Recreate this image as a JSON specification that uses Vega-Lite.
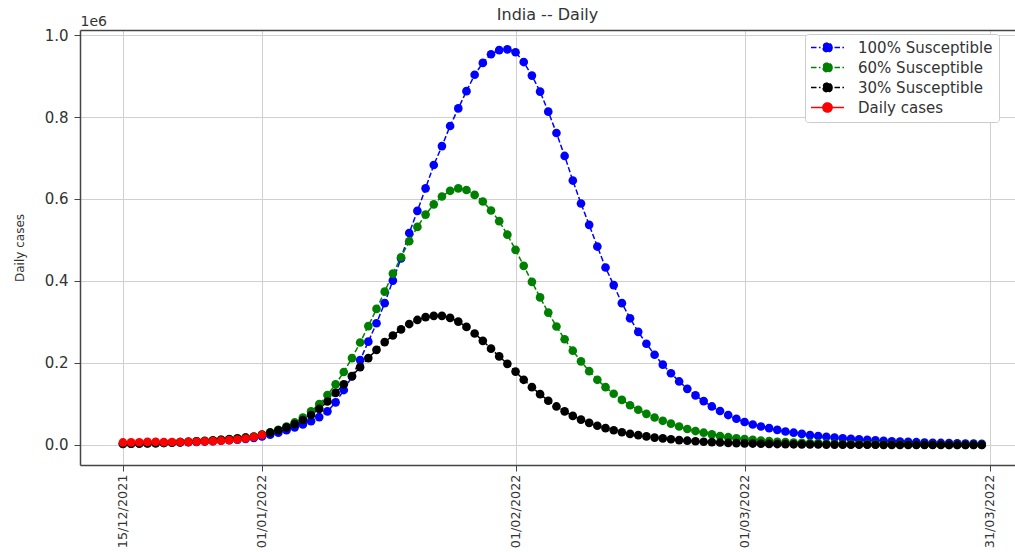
{
"$schema": "https://vega.github.io/schema/vega-lite/v6.json",
"width": 935, "height": 435,
"autosize": {"type": "none"},
"padding": {"left": 80, "top": 30, "right": 0, "bottom": 87},
"background": "white",
"config": {"view": {"stroke": null}, "font": "DejaVu Sans"},
"title": {"text": "India -- Daily", "font": "DejaVu Sans", "fontSize": 16, "fontWeight": "normal", "color": "#333333", "anchor": "middle", "frame": "group", "offset": -9},
"data": {"values": [
{"date":"2021-12-15","series":"100% Susceptible","cases":2800},
{"date":"2021-12-16","series":"100% Susceptible","cases":3100},
{"date":"2021-12-17","series":"100% Susceptible","cases":3500},
{"date":"2021-12-18","series":"100% Susceptible","cases":3900},
{"date":"2021-12-19","series":"100% Susceptible","cases":4300},
{"date":"2021-12-20","series":"100% Susceptible","cases":4800},
{"date":"2021-12-21","series":"100% Susceptible","cases":5400},
{"date":"2021-12-22","series":"100% Susceptible","cases":6000},
{"date":"2021-12-23","series":"100% Susceptible","cases":6700},
{"date":"2021-12-24","series":"100% Susceptible","cases":7500},
{"date":"2021-12-25","series":"100% Susceptible","cases":8400},
{"date":"2021-12-26","series":"100% Susceptible","cases":9400},
{"date":"2021-12-27","series":"100% Susceptible","cases":10500},
{"date":"2021-12-28","series":"100% Susceptible","cases":11800},
{"date":"2021-12-29","series":"100% Susceptible","cases":13200},
{"date":"2021-12-30","series":"100% Susceptible","cases":15000},
{"date":"2021-12-31","series":"100% Susceptible","cases":17500},
{"date":"2022-01-01","series":"100% Susceptible","cases":21000},
{"date":"2022-01-02","series":"100% Susceptible","cases":25000},
{"date":"2022-01-03","series":"100% Susceptible","cases":30000},
{"date":"2022-01-04","series":"100% Susceptible","cases":36000},
{"date":"2022-01-05","series":"100% Susceptible","cases":43000},
{"date":"2022-01-06","series":"100% Susceptible","cases":50000},
{"date":"2022-01-07","series":"100% Susceptible","cases":58000},
{"date":"2022-01-08","series":"100% Susceptible","cases":68000},
{"date":"2022-01-09","series":"100% Susceptible","cases":82000},
{"date":"2022-01-10","series":"100% Susceptible","cases":104000},
{"date":"2022-01-11","series":"100% Susceptible","cases":134000},
{"date":"2022-01-12","series":"100% Susceptible","cases":167000},
{"date":"2022-01-13","series":"100% Susceptible","cases":207000},
{"date":"2022-01-14","series":"100% Susceptible","cases":252000},
{"date":"2022-01-15","series":"100% Susceptible","cases":297000},
{"date":"2022-01-16","series":"100% Susceptible","cases":346000},
{"date":"2022-01-17","series":"100% Susceptible","cases":401000},
{"date":"2022-01-18","series":"100% Susceptible","cases":455000},
{"date":"2022-01-19","series":"100% Susceptible","cases":517000},
{"date":"2022-01-20","series":"100% Susceptible","cases":571000},
{"date":"2022-01-21","series":"100% Susceptible","cases":626000},
{"date":"2022-01-22","series":"100% Susceptible","cases":683000},
{"date":"2022-01-23","series":"100% Susceptible","cases":729000},
{"date":"2022-01-24","series":"100% Susceptible","cases":778000},
{"date":"2022-01-25","series":"100% Susceptible","cases":821000},
{"date":"2022-01-26","series":"100% Susceptible","cases":863000},
{"date":"2022-01-27","series":"100% Susceptible","cases":903000},
{"date":"2022-01-28","series":"100% Susceptible","cases":932000},
{"date":"2022-01-29","series":"100% Susceptible","cases":953000},
{"date":"2022-01-30","series":"100% Susceptible","cases":963000},
{"date":"2022-01-31","series":"100% Susceptible","cases":965000},
{"date":"2022-02-01","series":"100% Susceptible","cases":958000},
{"date":"2022-02-02","series":"100% Susceptible","cases":934000},
{"date":"2022-02-03","series":"100% Susceptible","cases":901000},
{"date":"2022-02-04","series":"100% Susceptible","cases":862000},
{"date":"2022-02-05","series":"100% Susceptible","cases":813000},
{"date":"2022-02-06","series":"100% Susceptible","cases":761000},
{"date":"2022-02-07","series":"100% Susceptible","cases":705000},
{"date":"2022-02-08","series":"100% Susceptible","cases":645000},
{"date":"2022-02-09","series":"100% Susceptible","cases":589000},
{"date":"2022-02-10","series":"100% Susceptible","cases":537000},
{"date":"2022-02-11","series":"100% Susceptible","cases":484000},
{"date":"2022-02-12","series":"100% Susceptible","cases":433000},
{"date":"2022-02-13","series":"100% Susceptible","cases":390000},
{"date":"2022-02-14","series":"100% Susceptible","cases":346000},
{"date":"2022-02-15","series":"100% Susceptible","cases":309000},
{"date":"2022-02-16","series":"100% Susceptible","cases":276000},
{"date":"2022-02-17","series":"100% Susceptible","cases":247000},
{"date":"2022-02-18","series":"100% Susceptible","cases":220000},
{"date":"2022-02-19","series":"100% Susceptible","cases":196000},
{"date":"2022-02-20","series":"100% Susceptible","cases":175000},
{"date":"2022-02-21","series":"100% Susceptible","cases":155000},
{"date":"2022-02-22","series":"100% Susceptible","cases":137000},
{"date":"2022-02-23","series":"100% Susceptible","cases":121000},
{"date":"2022-02-24","series":"100% Susceptible","cases":107000},
{"date":"2022-02-25","series":"100% Susceptible","cases":94000},
{"date":"2022-02-26","series":"100% Susceptible","cases":83000},
{"date":"2022-02-27","series":"100% Susceptible","cases":73000},
{"date":"2022-02-28","series":"100% Susceptible","cases":64000},
{"date":"2022-03-01","series":"100% Susceptible","cases":56000},
{"date":"2022-03-02","series":"100% Susceptible","cases":50000},
{"date":"2022-03-03","series":"100% Susceptible","cases":45000},
{"date":"2022-03-04","series":"100% Susceptible","cases":41000},
{"date":"2022-03-05","series":"100% Susceptible","cases":37000},
{"date":"2022-03-06","series":"100% Susceptible","cases":33000},
{"date":"2022-03-07","series":"100% Susceptible","cases":30000},
{"date":"2022-03-08","series":"100% Susceptible","cases":27000},
{"date":"2022-03-09","series":"100% Susceptible","cases":24000},
{"date":"2022-03-10","series":"100% Susceptible","cases":22000},
{"date":"2022-03-11","series":"100% Susceptible","cases":20000},
{"date":"2022-03-12","series":"100% Susceptible","cases":18000},
{"date":"2022-03-13","series":"100% Susceptible","cases":16500},
{"date":"2022-03-14","series":"100% Susceptible","cases":15000},
{"date":"2022-03-15","series":"100% Susceptible","cases":13800},
{"date":"2022-03-16","series":"100% Susceptible","cases":12500},
{"date":"2022-03-17","series":"100% Susceptible","cases":11300},
{"date":"2022-03-18","series":"100% Susceptible","cases":10200},
{"date":"2022-03-19","series":"100% Susceptible","cases":9200},
{"date":"2022-03-20","series":"100% Susceptible","cases":8300},
{"date":"2022-03-21","series":"100% Susceptible","cases":7500},
{"date":"2022-03-22","series":"100% Susceptible","cases":6800},
{"date":"2022-03-23","series":"100% Susceptible","cases":6100},
{"date":"2022-03-24","series":"100% Susceptible","cases":5500},
{"date":"2022-03-25","series":"100% Susceptible","cases":5000},
{"date":"2022-03-26","series":"100% Susceptible","cases":4500},
{"date":"2022-03-27","series":"100% Susceptible","cases":4000},
{"date":"2022-03-28","series":"100% Susceptible","cases":3600},
{"date":"2022-03-29","series":"100% Susceptible","cases":3300},
{"date":"2022-03-30","series":"100% Susceptible","cases":3000},
{"date":"2021-12-15","series":"60% Susceptible","cases":3000},
{"date":"2021-12-16","series":"60% Susceptible","cases":3400},
{"date":"2021-12-17","series":"60% Susceptible","cases":3800},
{"date":"2021-12-18","series":"60% Susceptible","cases":4300},
{"date":"2021-12-19","series":"60% Susceptible","cases":4800},
{"date":"2021-12-20","series":"60% Susceptible","cases":5400},
{"date":"2021-12-21","series":"60% Susceptible","cases":6100},
{"date":"2021-12-22","series":"60% Susceptible","cases":6900},
{"date":"2021-12-23","series":"60% Susceptible","cases":7800},
{"date":"2021-12-24","series":"60% Susceptible","cases":8800},
{"date":"2021-12-25","series":"60% Susceptible","cases":9900},
{"date":"2021-12-26","series":"60% Susceptible","cases":11200},
{"date":"2021-12-27","series":"60% Susceptible","cases":12600},
{"date":"2021-12-28","series":"60% Susceptible","cases":14200},
{"date":"2021-12-29","series":"60% Susceptible","cases":16000},
{"date":"2021-12-30","series":"60% Susceptible","cases":18000},
{"date":"2021-12-31","series":"60% Susceptible","cases":20300},
{"date":"2022-01-01","series":"60% Susceptible","cases":25500},
{"date":"2022-01-02","series":"60% Susceptible","cases":31000},
{"date":"2022-01-03","series":"60% Susceptible","cases":37000},
{"date":"2022-01-04","series":"60% Susceptible","cases":45000},
{"date":"2022-01-05","series":"60% Susceptible","cases":55000},
{"date":"2022-01-06","series":"60% Susceptible","cases":67000},
{"date":"2022-01-07","series":"60% Susceptible","cases":82000},
{"date":"2022-01-08","series":"60% Susceptible","cases":100000},
{"date":"2022-01-09","series":"60% Susceptible","cases":122000},
{"date":"2022-01-10","series":"60% Susceptible","cases":148000},
{"date":"2022-01-11","series":"60% Susceptible","cases":178000},
{"date":"2022-01-12","series":"60% Susceptible","cases":212000},
{"date":"2022-01-13","series":"60% Susceptible","cases":250000},
{"date":"2022-01-14","series":"60% Susceptible","cases":290000},
{"date":"2022-01-15","series":"60% Susceptible","cases":332000},
{"date":"2022-01-16","series":"60% Susceptible","cases":374000},
{"date":"2022-01-17","series":"60% Susceptible","cases":418000},
{"date":"2022-01-18","series":"60% Susceptible","cases":458000},
{"date":"2022-01-19","series":"60% Susceptible","cases":497000},
{"date":"2022-01-20","series":"60% Susceptible","cases":532000},
{"date":"2022-01-21","series":"60% Susceptible","cases":562000},
{"date":"2022-01-22","series":"60% Susceptible","cases":587000},
{"date":"2022-01-23","series":"60% Susceptible","cases":606000},
{"date":"2022-01-24","series":"60% Susceptible","cases":620000},
{"date":"2022-01-25","series":"60% Susceptible","cases":626000},
{"date":"2022-01-26","series":"60% Susceptible","cases":622000},
{"date":"2022-01-27","series":"60% Susceptible","cases":610000},
{"date":"2022-01-28","series":"60% Susceptible","cases":594000},
{"date":"2022-01-29","series":"60% Susceptible","cases":572000},
{"date":"2022-01-30","series":"60% Susceptible","cases":546000},
{"date":"2022-01-31","series":"60% Susceptible","cases":513000},
{"date":"2022-02-01","series":"60% Susceptible","cases":476000},
{"date":"2022-02-02","series":"60% Susceptible","cases":437000},
{"date":"2022-02-03","series":"60% Susceptible","cases":398000},
{"date":"2022-02-04","series":"60% Susceptible","cases":360000},
{"date":"2022-02-05","series":"60% Susceptible","cases":323000},
{"date":"2022-02-06","series":"60% Susceptible","cases":289000},
{"date":"2022-02-07","series":"60% Susceptible","cases":258000},
{"date":"2022-02-08","series":"60% Susceptible","cases":230000},
{"date":"2022-02-09","series":"60% Susceptible","cases":204000},
{"date":"2022-02-10","series":"60% Susceptible","cases":180000},
{"date":"2022-02-11","series":"60% Susceptible","cases":159000},
{"date":"2022-02-12","series":"60% Susceptible","cases":141000},
{"date":"2022-02-13","series":"60% Susceptible","cases":125000},
{"date":"2022-02-14","series":"60% Susceptible","cases":110000},
{"date":"2022-02-15","series":"60% Susceptible","cases":97000},
{"date":"2022-02-16","series":"60% Susceptible","cases":86000},
{"date":"2022-02-17","series":"60% Susceptible","cases":76000},
{"date":"2022-02-18","series":"60% Susceptible","cases":67000},
{"date":"2022-02-19","series":"60% Susceptible","cases":59000},
{"date":"2022-02-20","series":"60% Susceptible","cases":52000},
{"date":"2022-02-21","series":"60% Susceptible","cases":45000},
{"date":"2022-02-22","series":"60% Susceptible","cases":39000},
{"date":"2022-02-23","series":"60% Susceptible","cases":34000},
{"date":"2022-02-24","series":"60% Susceptible","cases":30000},
{"date":"2022-02-25","series":"60% Susceptible","cases":26000},
{"date":"2022-02-26","series":"60% Susceptible","cases":22000},
{"date":"2022-02-27","series":"60% Susceptible","cases":19000},
{"date":"2022-02-28","series":"60% Susceptible","cases":16500},
{"date":"2022-03-01","series":"60% Susceptible","cases":14300},
{"date":"2022-03-02","series":"60% Susceptible","cases":12400},
{"date":"2022-03-03","series":"60% Susceptible","cases":10700},
{"date":"2022-03-04","series":"60% Susceptible","cases":9300},
{"date":"2022-03-05","series":"60% Susceptible","cases":8000},
{"date":"2022-03-06","series":"60% Susceptible","cases":6900},
{"date":"2022-03-07","series":"60% Susceptible","cases":6000},
{"date":"2022-03-08","series":"60% Susceptible","cases":5200},
{"date":"2022-03-09","series":"60% Susceptible","cases":4500},
{"date":"2022-03-10","series":"60% Susceptible","cases":3900},
{"date":"2022-03-11","series":"60% Susceptible","cases":3400},
{"date":"2022-03-12","series":"60% Susceptible","cases":2900},
{"date":"2022-03-13","series":"60% Susceptible","cases":2500},
{"date":"2022-03-14","series":"60% Susceptible","cases":2200},
{"date":"2022-03-15","series":"60% Susceptible","cases":1900},
{"date":"2022-03-16","series":"60% Susceptible","cases":1600},
{"date":"2022-03-17","series":"60% Susceptible","cases":1400},
{"date":"2022-03-18","series":"60% Susceptible","cases":1200},
{"date":"2022-03-19","series":"60% Susceptible","cases":1100},
{"date":"2022-03-20","series":"60% Susceptible","cases":900},
{"date":"2022-03-21","series":"60% Susceptible","cases":800},
{"date":"2022-03-22","series":"60% Susceptible","cases":700},
{"date":"2022-03-23","series":"60% Susceptible","cases":600},
{"date":"2022-03-24","series":"60% Susceptible","cases":500},
{"date":"2022-03-25","series":"60% Susceptible","cases":500},
{"date":"2022-03-26","series":"60% Susceptible","cases":400},
{"date":"2022-03-27","series":"60% Susceptible","cases":400},
{"date":"2022-03-28","series":"60% Susceptible","cases":300},
{"date":"2022-03-29","series":"60% Susceptible","cases":300},
{"date":"2022-03-30","series":"60% Susceptible","cases":300},
{"date":"2021-12-15","series":"30% Susceptible","cases":2900},
{"date":"2021-12-16","series":"30% Susceptible","cases":3300},
{"date":"2021-12-17","series":"30% Susceptible","cases":3700},
{"date":"2021-12-18","series":"30% Susceptible","cases":4200},
{"date":"2021-12-19","series":"30% Susceptible","cases":4700},
{"date":"2021-12-20","series":"30% Susceptible","cases":5300},
{"date":"2021-12-21","series":"30% Susceptible","cases":6000},
{"date":"2021-12-22","series":"30% Susceptible","cases":6800},
{"date":"2021-12-23","series":"30% Susceptible","cases":7700},
{"date":"2021-12-24","series":"30% Susceptible","cases":8700},
{"date":"2021-12-25","series":"30% Susceptible","cases":9800},
{"date":"2021-12-26","series":"30% Susceptible","cases":11000},
{"date":"2021-12-27","series":"30% Susceptible","cases":12400},
{"date":"2021-12-28","series":"30% Susceptible","cases":14000},
{"date":"2021-12-29","series":"30% Susceptible","cases":15800},
{"date":"2021-12-30","series":"30% Susceptible","cases":17800},
{"date":"2021-12-31","series":"30% Susceptible","cases":20000},
{"date":"2022-01-01","series":"30% Susceptible","cases":25000},
{"date":"2022-01-02","series":"30% Susceptible","cases":30000},
{"date":"2022-01-03","series":"30% Susceptible","cases":36000},
{"date":"2022-01-04","series":"30% Susceptible","cases":43000},
{"date":"2022-01-05","series":"30% Susceptible","cases":51000},
{"date":"2022-01-06","series":"30% Susceptible","cases":61000},
{"date":"2022-01-07","series":"30% Susceptible","cases":73000},
{"date":"2022-01-08","series":"30% Susceptible","cases":88000},
{"date":"2022-01-09","series":"30% Susceptible","cases":106000},
{"date":"2022-01-10","series":"30% Susceptible","cases":127000},
{"date":"2022-01-11","series":"30% Susceptible","cases":148000},
{"date":"2022-01-12","series":"30% Susceptible","cases":168000},
{"date":"2022-01-13","series":"30% Susceptible","cases":190000},
{"date":"2022-01-14","series":"30% Susceptible","cases":212000},
{"date":"2022-01-15","series":"30% Susceptible","cases":232000},
{"date":"2022-01-16","series":"30% Susceptible","cases":251000},
{"date":"2022-01-17","series":"30% Susceptible","cases":267000},
{"date":"2022-01-18","series":"30% Susceptible","cases":282000},
{"date":"2022-01-19","series":"30% Susceptible","cases":295000},
{"date":"2022-01-20","series":"30% Susceptible","cases":305000},
{"date":"2022-01-21","series":"30% Susceptible","cases":312000},
{"date":"2022-01-22","series":"30% Susceptible","cases":315000},
{"date":"2022-01-23","series":"30% Susceptible","cases":315000},
{"date":"2022-01-24","series":"30% Susceptible","cases":310000},
{"date":"2022-01-25","series":"30% Susceptible","cases":301000},
{"date":"2022-01-26","series":"30% Susceptible","cases":288000},
{"date":"2022-01-27","series":"30% Susceptible","cases":272000},
{"date":"2022-01-28","series":"30% Susceptible","cases":254000},
{"date":"2022-01-29","series":"30% Susceptible","cases":235000},
{"date":"2022-01-30","series":"30% Susceptible","cases":216000},
{"date":"2022-01-31","series":"30% Susceptible","cases":198000},
{"date":"2022-02-01","series":"30% Susceptible","cases":179000},
{"date":"2022-02-02","series":"30% Susceptible","cases":159000},
{"date":"2022-02-03","series":"30% Susceptible","cases":141000},
{"date":"2022-02-04","series":"30% Susceptible","cases":124000},
{"date":"2022-02-05","series":"30% Susceptible","cases":108000},
{"date":"2022-02-06","series":"30% Susceptible","cases":94000},
{"date":"2022-02-07","series":"30% Susceptible","cases":82000},
{"date":"2022-02-08","series":"30% Susceptible","cases":71000},
{"date":"2022-02-09","series":"30% Susceptible","cases":62000},
{"date":"2022-02-10","series":"30% Susceptible","cases":54000},
{"date":"2022-02-11","series":"30% Susceptible","cases":47000},
{"date":"2022-02-12","series":"30% Susceptible","cases":41000},
{"date":"2022-02-13","series":"30% Susceptible","cases":36000},
{"date":"2022-02-14","series":"30% Susceptible","cases":31000},
{"date":"2022-02-15","series":"30% Susceptible","cases":27000},
{"date":"2022-02-16","series":"30% Susceptible","cases":24000},
{"date":"2022-02-17","series":"30% Susceptible","cases":21000},
{"date":"2022-02-18","series":"30% Susceptible","cases":18000},
{"date":"2022-02-19","series":"30% Susceptible","cases":16000},
{"date":"2022-02-20","series":"30% Susceptible","cases":14000},
{"date":"2022-02-21","series":"30% Susceptible","cases":12000},
{"date":"2022-02-22","series":"30% Susceptible","cases":10500},
{"date":"2022-02-23","series":"30% Susceptible","cases":9200},
{"date":"2022-02-24","series":"30% Susceptible","cases":8000},
{"date":"2022-02-25","series":"30% Susceptible","cases":7000},
{"date":"2022-02-26","series":"30% Susceptible","cases":6100},
{"date":"2022-02-27","series":"30% Susceptible","cases":5300},
{"date":"2022-02-28","series":"30% Susceptible","cases":4600},
{"date":"2022-03-01","series":"30% Susceptible","cases":4000},
{"date":"2022-03-02","series":"30% Susceptible","cases":3500},
{"date":"2022-03-03","series":"30% Susceptible","cases":3000},
{"date":"2022-03-04","series":"30% Susceptible","cases":2600},
{"date":"2022-03-05","series":"30% Susceptible","cases":2300},
{"date":"2022-03-06","series":"30% Susceptible","cases":2000},
{"date":"2022-03-07","series":"30% Susceptible","cases":1700},
{"date":"2022-03-08","series":"30% Susceptible","cases":1500},
{"date":"2022-03-09","series":"30% Susceptible","cases":1300},
{"date":"2022-03-10","series":"30% Susceptible","cases":1100},
{"date":"2022-03-11","series":"30% Susceptible","cases":1000},
{"date":"2022-03-12","series":"30% Susceptible","cases":900},
{"date":"2022-03-13","series":"30% Susceptible","cases":800},
{"date":"2022-03-14","series":"30% Susceptible","cases":700},
{"date":"2022-03-15","series":"30% Susceptible","cases":600},
{"date":"2022-03-16","series":"30% Susceptible","cases":500},
{"date":"2022-03-17","series":"30% Susceptible","cases":500},
{"date":"2022-03-18","series":"30% Susceptible","cases":400},
{"date":"2022-03-19","series":"30% Susceptible","cases":400},
{"date":"2022-03-20","series":"30% Susceptible","cases":300},
{"date":"2022-03-21","series":"30% Susceptible","cases":300},
{"date":"2022-03-22","series":"30% Susceptible","cases":300},
{"date":"2022-03-23","series":"30% Susceptible","cases":200},
{"date":"2022-03-24","series":"30% Susceptible","cases":200},
{"date":"2022-03-25","series":"30% Susceptible","cases":200},
{"date":"2022-03-26","series":"30% Susceptible","cases":200},
{"date":"2022-03-27","series":"30% Susceptible","cases":100},
{"date":"2022-03-28","series":"30% Susceptible","cases":100},
{"date":"2022-03-29","series":"30% Susceptible","cases":100},
{"date":"2022-03-30","series":"30% Susceptible","cases":100},
{"date":"2021-12-15","series":"Daily cases","cases":6200},
{"date":"2021-12-16","series":"Daily cases","cases":6500},
{"date":"2021-12-17","series":"Daily cases","cases":6600},
{"date":"2021-12-18","series":"Daily cases","cases":7500},
{"date":"2021-12-19","series":"Daily cases","cases":7800},
{"date":"2021-12-20","series":"Daily cases","cases":7100},
{"date":"2021-12-21","series":"Daily cases","cases":7200},
{"date":"2021-12-22","series":"Daily cases","cases":7400},
{"date":"2021-12-23","series":"Daily cases","cases":7700},
{"date":"2021-12-24","series":"Daily cases","cases":8100},
{"date":"2021-12-25","series":"Daily cases","cases":8700},
{"date":"2021-12-26","series":"Daily cases","cases":9500},
{"date":"2021-12-27","series":"Daily cases","cases":10500},
{"date":"2021-12-28","series":"Daily cases","cases":11800},
{"date":"2021-12-29","series":"Daily cases","cases":13500},
{"date":"2021-12-30","series":"Daily cases","cases":15800},
{"date":"2021-12-31","series":"Daily cases","cases":19500},
{"date":"2022-01-01","series":"Daily cases","cases":24500}
]},
"layer": [
{
"mark": {"type": "line", "strokeWidth": 1.5},
"encoding": {
"x": {"field": "date", "type": "temporal",
 "scale": {"type": "utc", "nice": false, "domain": [{"year": 2021, "month": 12, "date": 9, "hours": 18, "utc": true}, {"year": 2022, "month": 4, "date": 3, "hours": 1, "minutes": 30, "utc": true}]},
 "axis": {"orient": "bottom", "title": null,
  "values": [{"year": 2021, "month": 12, "date": 15, "utc": true}, {"year": 2022, "month": 1, "date": 1, "utc": true}, {"year": 2022, "month": 2, "date": 1, "utc": true}, {"year": 2022, "month": 3, "date": 1, "utc": true}, {"year": 2022, "month": 3, "date": 31, "utc": true}],
  "labelExpr": "utcFormat(datum.value, '%d/%m/%Y')",
  "labelAngle": -90, "labelAlign": "right", "labelBaseline": "middle", "labelFont": "DejaVu Sans", "labelFontSize": 12.8, "labelColor": "#333333", "labelPadding": 3,
  "tickSize": 6, "tickColor": "#444444", "tickWidth": 1,
  "grid": true, "gridColor": "#d0d0d0", "gridWidth": 1,
  "domain": true, "domainColor": "#444444", "domainWidth": 1.5}},
"y": {"field": "cases", "type": "quantitative",
 "scale": {"domain": [-48800, 1012200], "nice": false, "zero": false},
 "axis": {"orient": "left", "title": "Daily cases", "titleFont": "DejaVu Sans", "titleFontSize": 12, "titleFontWeight": "normal", "titleColor": "#333333", "titlePadding": 18,
  "values": [0, 200000, 400000, 600000, 800000, 1000000],
  "labelExpr": "format(datum.value / 1000000, '.1f')",
  "labelFont": "DejaVu Sans", "labelFontSize": 15, "labelColor": "#333333", "labelPadding": 6,
  "tickSize": 6, "tickColor": "#444444",
  "grid": true, "gridColor": "#d0d0d0", "gridWidth": 1,
  "domain": true, "domainColor": "#444444", "domainWidth": 1.5}},
"color": {"field": "series", "type": "nominal",
 "scale": {"domain": ["100% Susceptible", "60% Susceptible", "30% Susceptible", "Daily cases"], "range": ["#0000ff", "#008000", "#000000", "#ff0000"]}},
"strokeDash": {"field": "series", "type": "nominal",
 "scale": {"domain": ["100% Susceptible", "60% Susceptible", "30% Susceptible", "Daily cases"], "range": [[5.5, 2.4], [5.5, 2.4], [5.5, 2.4], [1, 0]]},
 "legend": null}
}
},
{
"mark": {"type": "point", "filled": true, "size": 75, "opacity": 1},
"encoding": {
"x": {"field": "date", "type": "temporal",
 "axis": {"orient": "top", "labels": false, "ticks": false, "grid": false, "domain": true, "domainColor": "#444444", "domainWidth": 1.5,
  "title": "1e6", "titleX": 0, "titleY": -5, "titleAlign": "left", "titleBaseline": "alphabetic", "titleAngle": 0, "titleFont": "DejaVu Sans", "titleFontSize": 14, "titleFontWeight": "normal", "titleColor": "#333333"}},
"y": {"field": "cases", "type": "quantitative"},
"color": {"field": "series", "type": "nominal",
 "scale": {"domain": ["100% Susceptible", "60% Susceptible", "30% Susceptible", "Daily cases"], "range": ["#0000ff", "#008000", "#000000", "#ff0000"]},
 "legend": {"title": null, "orient": "none", "legendX": 725, "legendY": 4,
  "fillColor": "white", "strokeColor": "#cccccc", "cornerRadius": 3, "padding": 6,
  "labelFont": "DejaVu Sans", "labelFontSize": 15, "labelColor": "#333333", "labelOffset": 23,
  "symbolType": "M-3.3,0L-1.4,0M1.4,0L3.3,0M0.92,0A0.92,0.92,0,1,1,-0.92,0A0.92,0.92,0,1,1,0.92,0Z",
  "symbolSize": 100, "symbolStrokeWidth": 1.5, "symbolOffset": 9, "rowPadding": 3,
  "encoding": {"symbols": {
   "shape": {"value": {"expr": "datum.value === 'Daily cases' ? 'M-3.3,0L3.3,0M0.92,0A0.92,0.92,0,1,1,-0.92,0A0.92,0.92,0,1,1,0.92,0Z' : 'M-3.3,0L-1.4,0M1.4,0L3.3,0M0.92,0A0.92,0.92,0,1,1,-0.92,0A0.92,0.92,0,1,1,0.92,0Z'"}},
   "stroke": {"value": {"expr": "scale('color', datum.value)"}},
   "fill": {"value": {"expr": "scale('color', datum.value)"}},
   "opacity": {"value": 1}}}}}
}
}
]
}
